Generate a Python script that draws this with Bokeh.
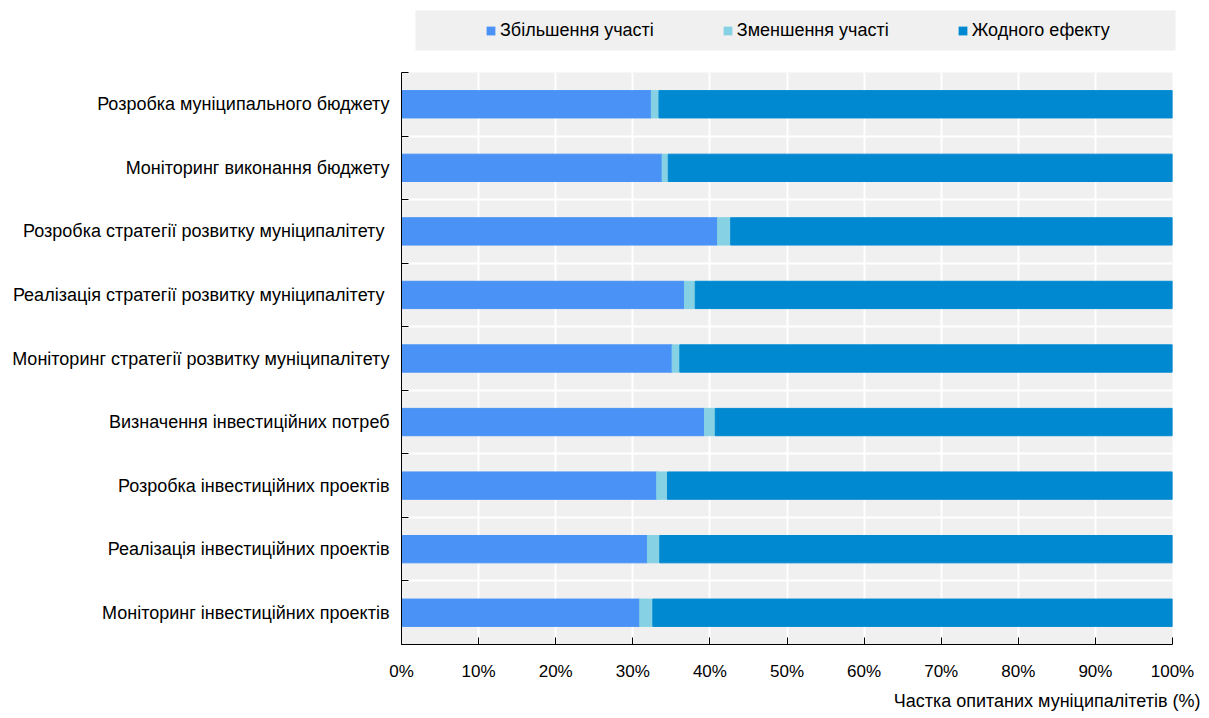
from bokeh.plotting import figure
from bokeh.models import ColumnDataSource, FixedTicker, Legend, LegendItem, Title
from bokeh.layouts import column
from bokeh.embed import file_html
from bokeh.resources import INLINE

categories = [
    "Розробка муніципального бюджету",
    "Моніторинг виконання бюджету",
    "Розробка стратегії розвитку  муніципалітету",
    "Реалізація стратегії розвитку  муніципалітету",
    "Моніторинг стратегії розвитку муніципалітету",
    "Визначення інвестиційних потреб",
    "Розробка інвестиційних проектів",
    "Реалізація інвестиційних проектів",
    "Моніторинг інвестиційних проектів",
]
increase = [32.4, 33.8, 41.0, 36.7, 35.1, 39.3, 33.1, 31.9, 30.9]
decrease = [1.0, 0.8, 1.7, 1.4, 1.0, 1.4, 1.4, 1.6, 1.7]
no_effect = [100 - a - b for a, b in zip(increase, decrease)]
series_names = ["Збільшення участі", "Зменшення участі", "Жодного ефекту"]
colors = ["#4A92F5", "#86D2E4", "#0089D1"]
x_ticks = list(range(0, 101, 10))

FONT = "Liberation Sans"
n = len(categories)
ypos = [n - i - 0.5 for i in range(n)]

right1 = increase
right2 = [a + b for a, b in zip(increase, decrease)]
right3 = [r + c for r, c in zip(right2, no_effect)]

src = ColumnDataSource(dict(y=ypos, l1=[0] * n, r1=right1, l2=right1, r2=right2,
                            l3=right2, r3=right3))

p = figure(width=1209, height=646, x_range=(0, 100), y_range=(0, n),
           output_backend="svg", toolbar_location=None, frame_align=False,
           min_border_left=401, min_border_right=37, min_border_top=0, min_border_bottom=74)
p.background_fill_color = "#F0F0F0"
p.border_fill_color = "white"
p.outline_line_color = None

h = 0.43
r1 = p.hbar(y="y", left="l1", right="r1", height=h, color=colors[0], source=src)
r2 = p.hbar(y="y", left="l2", right="r2", height=h, color=colors[1], source=src)
r3 = p.hbar(y="y", left="l3", right="r3", height=h, color=colors[2], source=src)

p.xgrid.ticker = FixedTicker(ticks=x_ticks)
p.xgrid.grid_line_color = "white"
p.xgrid.grid_line_width = 2
p.ygrid.ticker = FixedTicker(ticks=list(range(0, n + 1)))
p.ygrid.grid_line_color = "white"
p.ygrid.grid_line_width = 2

xa = p.xaxis[0]
xa.ticker = FixedTicker(ticks=x_ticks)
xa.major_label_overrides = {t: f"{t}%" for t in x_ticks}
xa.major_tick_in = 7
xa.major_tick_out = 0
xa.minor_tick_line_color = None
xa.axis_line_color = "black"
xa.major_tick_line_color = "black"
xa.major_label_text_font = FONT
xa.major_label_text_font_size = "17px"
xa.major_label_text_color = "black"
xa.major_label_standoff = 17

ya = p.yaxis[0]
ya.ticker = FixedTicker(ticks=ypos, minor_ticks=list(range(0, n + 1)))
ya.major_label_overrides = {y: c for y, c in zip(ypos, categories)}
ya.major_tick_in = 0
ya.major_tick_out = 0
ya.minor_tick_in = 7
ya.minor_tick_out = 0
ya.minor_tick_line_color = "black"
ya.axis_line_color = "black"
ya.major_label_text_font = FONT
ya.major_label_text_font_size = "18px"
ya.major_label_text_color = "black"
ya.major_label_standoff = 12

p.add_layout(Title(text="Частка опитаних муніципалітетів (%)", align="right",
                   text_font=FONT, text_font_size="18px", text_font_style="normal",
                   text_color="black", offset=-28), "below")

# legend strip above the chart (its frame is the grey legend box)
lf = figure(width=1209, height=72, x_range=(0, 100), y_range=(0, n),
            output_backend="svg", toolbar_location=None, frame_align=False,
            x_axis_type=None, y_axis_type=None,
            min_border_left=415, min_border_right=34, min_border_top=10, min_border_bottom=22)
lf.background_fill_color = "#F0F0F0"
lf.border_fill_color = "white"
lf.outline_line_color = None
lf.xgrid.visible = False
lf.ygrid.visible = False
# zero-area copies of the series: nothing visible, used only for legend swatches
lr = [lf.hbar(y="y", left=l, right=l, height=0, fill_color=c, line_color=None, source=src)
      for l, c in zip(["l1", "l2", "l3"], colors)]
legend = Legend(items=[LegendItem(label=s, renderers=[r], index=0) for s, r in zip(series_names, lr)],
                orientation="horizontal", location=(70, 0),
                background_fill_alpha=0, border_line_color=None,
                label_text_font=FONT, label_text_font_size="18px", label_text_color="black",
                glyph_width=11, glyph_height=11, label_standoff=4, spacing=68,
                padding=0, margin=0, label_height=40)
lf.add_layout(legend, "center")

open("out.html", "w").write(file_html(column(lf, p, spacing=0), INLINE))
